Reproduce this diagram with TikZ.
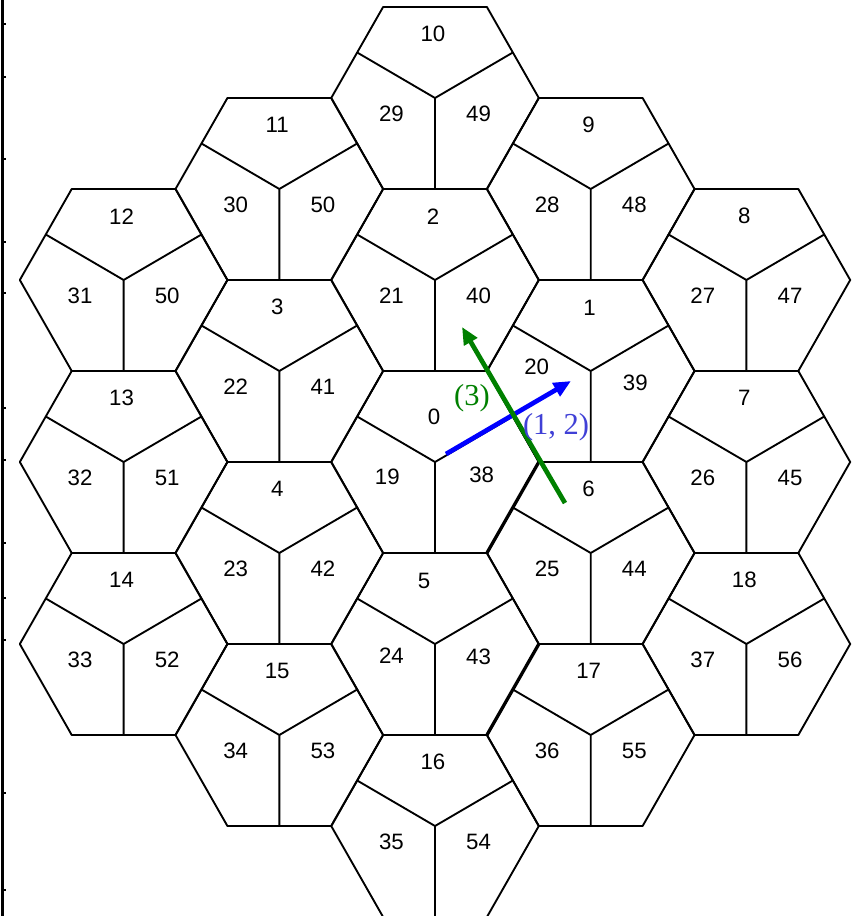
\documentclass[tikz,border=0pt]{standalone}
\usepackage{fontspec}
\setmainfont{Liberation Serif}
\newfontfamily\hexfont{Liberation Sans}
\usepackage{xcolor}
\definecolor{vecblue}{RGB}{0,0,255}
\definecolor{vecgreen}{RGB}{0,128,0}
\definecolor{lblblue}{RGB}{64,64,214}
\usetikzlibrary{arrows.meta}

\begin{document}
\begin{tikzpicture}[
      x=3.114cm,y=2.73cm,
      edge/.style={line width=1.6pt,line join=round},
      lbl/.style={font=\hexfont\fontsize{19}{22}\selectfont,inner sep=0pt},
      vec/.style={line width=4pt,-{Triangle[length=5.2mm,width=4.4mm]}},
      veclbl/.style={font=\fontsize{26}{30}\selectfont,inner sep=0pt}
    ]
    \useasboundingbox (-4.191,-4.989) rectangle (4.017,5.077);
    \clip (-4.191,-4.989) rectangle (4.017,5.077);
    \foreach \cx/\cy/\h in {0/4/10, 0/2/2, 0/0/0, 0/-2/5, 0/-4/16,
        1.5/3/9, 1.5/1/1, 1.5/-1/6, 1.5/-3/17,
        -1.5/3/11, -1.5/1/3, -1.5/-1/4, -1.5/-3/15,
        3/2/8, 3/0/7, 3/-2/18, -3/2/12, -3/0/13, -3/-2/14} {
      \coordinate (h\h) at (\cx,\cy);
      \draw[edge,shift={(\cx,\cy)}]
      (1,0) -- (0.5,1) -- (-0.5,1) -- (-1,0) -- (-0.5,-1) -- (0.5,-1) -- cycle;
      \draw[edge,shift={(\cx,\cy)}]
      (-0.75,0.5) -- (0,0) -- (0.75,0.5) (0,0) -- (0,-1);
    }
    \draw[edge,line width=2.8pt] ([shift={(-0.5,1)}]h6) -- ([shift={(-1,0)}]h6);
    \draw[edge,line width=2.8pt] ([shift={(-0.5,1)}]h17) -- ([shift={(-1,0)}]h17);
    \foreach \h/\l/\r in {10/29/49, 2/21/40, 16/35/54, 9/28/48, 6/25/44,
        17/36/55, 11/30/50, 3/22/41, 4/23/42, 15/34/53, 8/27/47,
        7/26/45, 18/37/56, 12/31/50, 13/32/51, 14/33/52} {
      \node[lbl] (t\h) at ([shift={(-0.02,0.70)}]h\h) {\h};
      \node[lbl] (l\h) at ([shift={(-0.42,-0.17)}]h\h) {\l};
      \node[lbl] (r\h) at ([shift={(0.42,-0.17)}]h\h) {\r};
    }
    \node[lbl] (t0) at ([shift={(-0.01,0.495)}]h0) {0};
    \node[lbl] (l0) at ([shift={(-0.46,-0.165)}]h0) {19};
    \node[lbl] (r0) at ([shift={(0.45,-0.143)}]h0) {38};
    \node[lbl] (t5) at ([shift={(-0.106,0.692)}]h5) {5};
    \node[lbl] (l5) at ([shift={(-0.42,-0.13)}]h5) {24};
    \node[lbl] (r5) at ([shift={(0.42,-0.14)}]h5) {43};
    \node[lbl] (t1) at ([shift={(-0.01,0.69)}]h1) {1};
    \node[lbl] (l1) at ([shift={(-0.52,0.044)}]h1) {20};
    \node[lbl] (r1) at ([shift={(0.43,-0.13)}]h1) {39};
    \draw[line width=2.3pt] (-4.169,5.077) -- (-4.169,-4.989);
    \foreach \py in {24,77,159,242,293,408,460,543,598,640,793,890} {
      \draw[line width=1.2pt] (-4.169,{(462-\py)/91}) -- ++(0.035,0);
    }
    \coordinate (bluefrom) at (0.106,0.088);
    \coordinate (blueto) at (1.310,0.890);
    \coordinate (greenfrom) at (1.252,-0.451);
    \coordinate (greento) at (0.260,1.484);
    \draw[vec,vecblue] (bluefrom) -- (blueto);
    \draw[vec,vecgreen] (greenfrom) -- (greento);
    \node[veclbl,text=lblblue] (vlbl) at (1.166,0.385) {(1, 2)};
    \node[veclbl,text=vecgreen] (glbl) at (0.356,0.703) {(3)};
  \end{tikzpicture}
\end{document}
